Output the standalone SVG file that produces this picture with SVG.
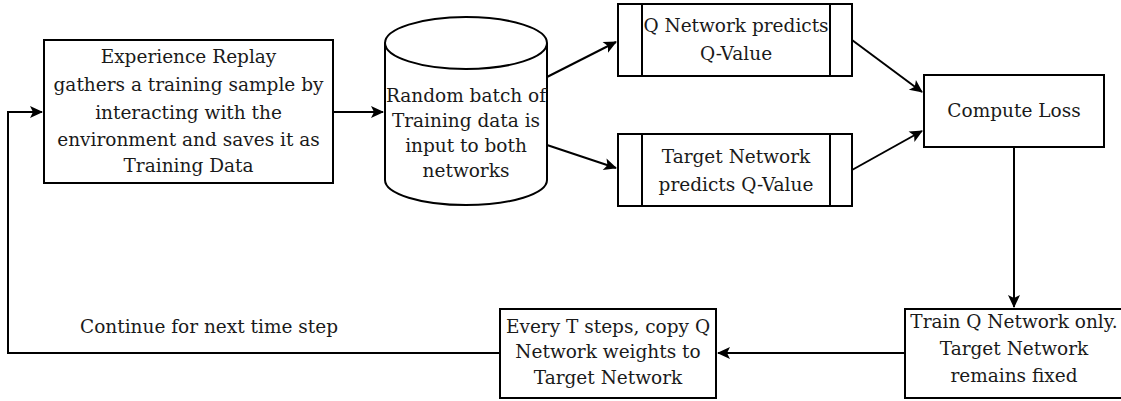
<svg xmlns="http://www.w3.org/2000/svg" width="1121" height="401" viewBox="0 0 1121 401">
<style>
.box{fill:#fff;stroke:#000;stroke-width:2}
.ln{fill:none;stroke:#000;stroke-width:2}
.t{font-family:"DejaVu Serif","Liberation Serif",serif;font-size:18.5px;fill:#1a1a1a;text-anchor:middle}
</style>
<defs>
<marker id="arr" markerUnits="userSpaceOnUse" viewBox="-1 -7 15 14" markerWidth="15" markerHeight="14" refX="12" refY="0" orient="auto">
<path d="M0,-6 L13,0 L0,6 L3,0 Z" fill="#000"/>
</marker>
</defs>
<rect width="1121" height="401" fill="#fff"/>
<g id="connectors">
<path class="ln" d="M333,112 L383,112" marker-end="url(#arr)"/>
<path class="ln" d="M547,77 L616,42" marker-end="url(#arr)"/>
<path class="ln" d="M547,145 L616,168" marker-end="url(#arr)"/>
<path class="ln" d="M852,40 L922,92" marker-end="url(#arr)"/>
<path class="ln" d="M852,170 L922,131" marker-end="url(#arr)"/>
<path class="ln" d="M1014,147 L1014,307" marker-end="url(#arr)"/>
<path class="ln" d="M905,353 L718,353" marker-end="url(#arr)"/>
<path class="ln" d="M500,353 L8,353 L8,112 L42,112" marker-end="url(#arr)"/>
<text class="t" x="80" y="333" style="text-anchor:start">Continue for next time step</text>
</g>
<g id="experience-replay">
<rect class="box" x="44" y="40" width="289" height="143"/>
<text class="t" x="188.5" y="63">Experience Replay</text>
<text class="t" x="188.5" y="91">gathers a training sample by</text>
<text class="t" x="188.5" y="119">interacting with the</text>
<text class="t" x="188.5" y="146">environment and saves it as</text>
<text class="t" x="188.5" y="172">Training Data</text>
</g>
<g id="random-batch">
<path class="box" d="M385,43 A81,26 0 0 1 547,43 L547,180 A81,25 0 0 1 385,180 Z"/>
<path class="ln" d="M385,43 A81,26 0 0 0 547,43"/>
<text class="t" x="466" y="102">Random batch of</text>
<text class="t" x="466" y="127">Training data is</text>
<text class="t" x="466" y="152">input to both</text>
<text class="t" x="466" y="177">networks</text>
</g>
<g id="q-network">
<rect class="box" x="618" y="4" width="234" height="72"/>
<path class="ln" d="M642,4 L642,76 M830,4 L830,76"/>
<text class="t" x="736" y="32">Q Network predicts</text>
<text class="t" x="736" y="60">Q-Value</text>
</g>
<g id="target-network">
<rect class="box" x="618" y="134" width="234" height="72"/>
<path class="ln" d="M642,134 L642,206 M830,134 L830,206"/>
<text class="t" x="736" y="163">Target Network</text>
<text class="t" x="736" y="191">predicts Q-Value</text>
</g>
<g id="compute-loss">
<rect class="box" x="924" y="75" width="180" height="72"/>
<text class="t" x="1014" y="117">Compute Loss</text>
</g>
<g id="train-q">
<rect class="box" x="905" y="309" width="218" height="89"/>
<text class="t" x="1014" y="328">Train Q Network only.</text>
<text class="t" x="1014" y="355">Target Network</text>
<text class="t" x="1014" y="382">remains fixed</text>
</g>
<g id="copy-weights">
<rect class="box" x="500" y="309" width="216" height="89"/>
<text class="t" x="608" y="333">Every T steps, copy Q</text>
<text class="t" x="608" y="358">Network weights to</text>
<text class="t" x="608" y="384">Target Network</text>
</g>
</svg>
